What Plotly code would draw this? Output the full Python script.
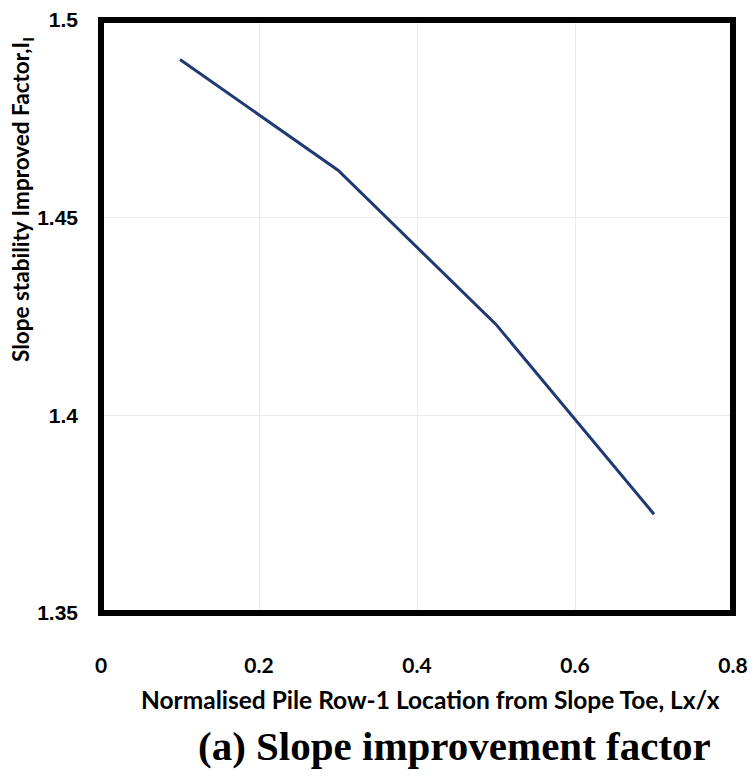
import plotly.graph_objects as go

x_vals = [0.1, 0.3, 0.5, 0.7]
y_vals = [1.490, 1.462, 1.423, 1.375]
x_ticks = [0, 0.2, 0.4, 0.6, 0.8]
x_ticklabels = ["0", "0.2", "0.4", "0.6", "0.8"]
y_ticks = [1.35, 1.4, 1.45, 1.5]
y_ticklabels = ["1.35", "1.4", "1.45", "1.5"]

# page has an 8px body margin; figure is sized so it fits the 755x778 window
OFF = 8
W, H = 755 - OFF, 778 - OFF
PL, PR, PT, PB = 101, 733, 20, 613  # plot area in window pixels
ml, mr, mt = PL - OFF, W - (PR - OFF), PT - OFF
mb = H - (PB - OFF)
pw, ph = PR - PL, PB - PT


def px(x):
    return (x - PL) / pw


def py(y):
    return (PB - y) / ph


fig = go.Figure()
fig.add_trace(go.Scatter(x=x_vals, y=y_vals, mode="lines",
                         line=dict(color="#1f3a72", width=3), showlegend=False))

fig.update_layout(
    width=W, height=H,
    paper_bgcolor="white", plot_bgcolor="white",
    margin=dict(l=ml, r=mr, t=mt, b=mb, autoexpand=False),
    xaxis=dict(range=[0, 0.8], tickvals=x_ticks, ticktext=x_ticklabels,
               showgrid=True, gridcolor="#e8eaec", gridwidth=1,
               showline=False, zeroline=False, ticks="", ticklabelstandoff=38,
               automargin=False, ticklabeloverflow="allow",
               tickfont=dict(family="Lato", size=21, color="black", weight="bold")),
    yaxis=dict(range=[1.35, 1.5], tickvals=y_ticks, ticktext=y_ticklabels,
               showgrid=True, gridcolor="#e8eaec", gridwidth=1,
               showline=False, zeroline=False, ticks="", ticklabelstandoff=22,
               automargin=False, ticklabeloverflow="allow",
               tickfont=dict(family="Liberation Sans", size=21, color="black", weight="bold")),
    shapes=[
        dict(type="rect", xref="paper", yref="paper", x0=0, x1=1, y0=0, y1=1,
             line=dict(color="black", width=6), fillcolor="rgba(0,0,0,0)",
             layer="above"),
    ],
    annotations=[
        dict(text="<b>Normalised Pile Row-1 Location from Slope Toe, Lx/x</b>",
             x=px(430), y=py(699), xref="paper", yref="paper", showarrow=False,
             xanchor="center", yanchor="middle",
             font=dict(family="Lato", size=24.5, color="black")),
        dict(text="<b>Slope stability Improved Factor,I<sub>I</sub></b>",
             x=px(22), y=py(200), xref="paper", yref="paper", textangle=-90,
             showarrow=False, xanchor="center", yanchor="middle",
             font=dict(family="Lato", size=22.5, color="black")),
        dict(text="<b>(a) Slope improvement factor</b>",
             x=px(454), y=py(746), xref="paper", yref="paper", showarrow=False,
             xanchor="center", yanchor="middle",
             font=dict(family="Liberation Serif", size=41, color="black")),
    ],
)

fig.write_html("out.html")
